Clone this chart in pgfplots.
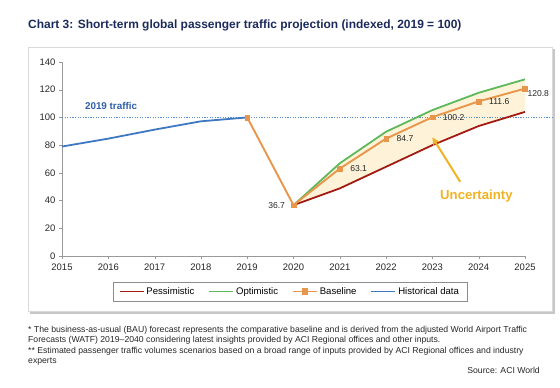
\documentclass[border=0pt]{standalone}
\usepackage{pgfplots}
\usepackage{pgfplotstable}
\pgfplotsset{compat=1.18}
\usepgfplotslibrary{fillbetween}
\usetikzlibrary{arrows.meta}
\usepackage{fontspec}
\setmainfont{Liberation Sans}
\definecolor{titlecol}{HTML}{1B2A5C}
\definecolor{histcol}{HTML}{3E78C2}
\definecolor{optcol}{HTML}{5DB85B}
\definecolor{pesscol}{HTML}{A31A12}
\definecolor{basecol}{HTML}{E8964B}
\definecolor{fillcol}{HTML}{FEF3D8}
\definecolor{goldcol}{HTML}{F0B323}
\definecolor{trafcol}{HTML}{2E5FA8}
\definecolor{legframe}{HTML}{8C8C8C}
\definecolor{dotcol}{HTML}{5B8FD0}
\pgfplotstableread{
year val
2020 36.7
2021 48.8
2022 64.4
2023 80.0
2024 93.8
2025 104.0
}\pess
\pgfplotstableread{
year val
2020 36.7
2021 66.9
2022 89.7
2023 105.3
2024 117.8
2025 127.5
}\opt
\pgfplotstableread{
year val
2019 100
2020 36.7
2021 63.1
2022 84.7
2023 100.2
2024 111.6
2025 120.8
}\base
\pgfplotstableread{
year val
2015 79.0
2016 84.7
2017 91.2
2018 97.2
2019 100.0
}\hist
\begin{document}
\begin{tikzpicture}[x=1bp,y=1bp]
\draw[black!22, line width=2.2bp] (30,74) -- (554,74) -- (554,338);
\draw[black!15, line width=0.8bp] (28,76) rectangle (552,340);
\node[anchor=west, font=\fontsize{12}{14}\selectfont\bfseries, text=titlecol, inner sep=0pt] at (28,362) {Chart 3: Short-term global passenger traffic projection (indexed, 2019 = 100)};
\begin{axis}[
  at={(62bp,131bp)}, anchor=south west, scale only axis,
  width=463bp, height=194bp,
  xmin=2015, xmax=2025, ymin=0, ymax=140,
  xtick={2015,2016,...,2025}, ytick={0,20,...,140},
  axis lines*=left,
  axis line style={black!40},
  tick style={black!40},
  tick align=outside, major tick length=3bp,
  /pgf/number format/1000 sep={},
  /pgf/number format/assume math mode=true,
  tick label style={font=\fontsize{9.5}{11}\selectfont, text=black!85},
  x tick label style={yshift=-1bp},
  clip=false,
  legend style={at={(0.492,-0.183)}, anchor=center,
     font=\fontsize{9.6}{11}\selectfont, legend columns=4,
     /tikz/every even column/.append style={column sep=12bp},
     inner ysep=3bp, inner xsep=6bp},
  every axis legend/.append style={draw=legframe},
  legend cell align=left,
]
\addplot[draw=none, name path=pess, forget plot] table[x=year,y=val] {\pess};
\addplot[draw=none, name path=opt, forget plot] table[x=year,y=val] {\opt};
\addplot[fill=fillcol, draw=none, forget plot] fill between[of=opt and pess];
\addplot[draw=dotcol, line width=0.9pt, dash pattern=on 1.2pt off 1.4pt, forget plot] coordinates {(2015,100)(2025.6,100)};
\addplot[draw=pesscol, line width=1.8pt,
  legend image code/.code={\draw[draw=pesscol, line width=1.8pt] (0bp,0bp) -- (24bp,0bp);}] table[x=year,y=val] {\pess};
\addlegendentry{Pessimistic}
\addplot[draw=optcol, line width=1.8pt,
  legend image code/.code={\draw[draw=optcol, line width=1.8pt] (0bp,0bp) -- (24bp,0bp);}] table[x=year,y=val] {\opt};
\addlegendentry{Optimistic}
\addplot[draw=basecol, line width=1.9pt, mark=square*, mark size=2.4pt, mark options={fill=basecol, draw=basecol, line width=0.4pt},
  legend image code/.code={\draw[draw=basecol, line width=1.8pt] (0bp,0bp) -- (24bp,0bp); \fill[basecol] (9.6bp,-2.4bp) rectangle (14.4bp,2.4bp);}] table[x=year,y=val] {\base};
\addlegendentry{Baseline}
\addplot[draw=histcol, line width=1.8pt,
  legend image code/.code={\draw[draw=histcol, line width=1.8pt] (0bp,0bp) -- (24bp,0bp);}] table[x=year,y=val] {\hist};
\addlegendentry{Historical data}
\begin{scope}[font=\fontsize{8.6}{10}\selectfont, text=black!85]
\node[anchor=east] at (axis cs:2020,36.7) [xshift=-5bp] {36.7};
\node[anchor=west] at (axis cs:2021,63.1) [xshift=7bp] {63.1};
\node[anchor=west] at (axis cs:2022,84.7) [xshift=7bp] {84.7};
\node[anchor=west] at (axis cs:2023,100.2) [xshift=7bp] {100.2};
\node[anchor=west] at (axis cs:2024,111.6) [xshift=7bp] {111.6};
\node[anchor=west] at (axis cs:2025,120.8) [xshift=-1bp, yshift=-5bp] {120.8};
\end{scope}
\node[font=\fontsize{9.9}{11}\selectfont\bfseries, text=trafcol] at (axis cs:2016.06,108.2) {2019 traffic};
\draw[goldcol, line width=2pt, -{Stealth[length=8bp,width=8bp]}] (axis cs:2023.6,53.6) -- (axis cs:2023.0,85.6);
\node[font=\fontsize{13.2}{15}\selectfont\bfseries, text=goldcol] at (axis cs:2023.95,43.5) {Uncertainty};
\end{axis}
\node[anchor=north west, align=left, inner sep=0pt, font=\fontsize{8.7}{10.4}\selectfont, text=black!85] at (28,61) {* The business-as-usual (BAU) forecast represents the comparative baseline and is derived from the adjusted World Airport Traffic\\Forecasts (WATF) 2019--2040 considering latest insights provided by ACI Regional offices and other inputs.\\** Estimated passenger traffic volumes scenarios based on a broad range of inputs provided by ACI Regional offices and industry\\experts};
\node[anchor=east, inner sep=0pt, font=\fontsize{8.7}{10}\selectfont, text=black!85] at (540,17) {Source: ACI World};
\pgfresetboundingbox
\path[use as bounding box] (0,0) rectangle (560,387);
\end{tikzpicture}
\end{document}
